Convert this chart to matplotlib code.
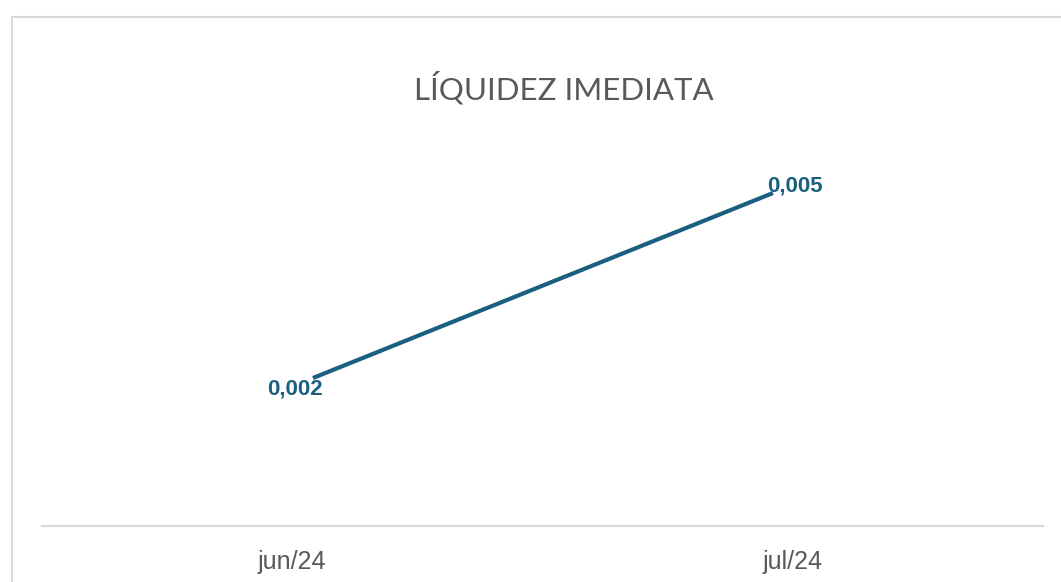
import matplotlib
matplotlib.use("Agg")
import matplotlib.pyplot as plt
import matplotlib.patches as patches
from matplotlib.transforms import ScaledTranslation

# liquidity ratio per month
months = ["jun/24", "jul/24"]
values = [0.002, 0.005]
labels = ["0,002", "0,005"]

line_col = "#1b5f80"
grey = "#595959"

fig = plt.figure(figsize=(10.61, 5.82), dpi=100)
ax = fig.add_axes([42 / 1061, 1 - 526 / 582, 1001 / 1061, 386 / 582])

x = list(range(len(months)))
ax.plot(x, values, color=line_col, lw=3, solid_capstyle="butt")

ax.set_xlim(-0.589, 1.587)
ax.set_ylim(-0.0004, 0.00586)

# value labels next to each point
offsets = [(-18, -11), (22, 7)]
for xi, v, lab, (dx, dy) in zip(x, values, labels, offsets):
    ax.annotate(lab, (xi, v), xytext=(dx * 0.72, dy * 0.72), textcoords="offset points",
                ha="center", va="center", fontsize=16, fontweight="bold",
                color=line_col, family="Liberation Sans")

ax.set_xticks(x)
ax.set_xticklabels(months, fontsize=18, color=grey, family="Liberation Sans")
ax.tick_params(axis="x", length=0, pad=17)
shifts = [-21, 20]
for t, s in zip(ax.get_xticklabels(), shifts):
    t.set_transform(t.get_transform() + ScaledTranslation(s / 100, 0, fig.dpi_scale_trans))
ax.set_yticks([])
for side in ["left", "right", "top"]:
    ax.spines[side].set_visible(False)
ax.spines["bottom"].set_color("#d9d9d9")
ax.spines["bottom"].set_linewidth(1.5)

fig.text(564 / 1061, 1 - 88 / 582, "LÍQUIDEZ IMEDIATA", ha="center", va="center",
         fontsize=22.5, color=grey, family="Lato")

# outer frame
fig.patches.append(patches.Rectangle((12 / 1061, -0.1), 1.2, 1 - 17 / 582 + 0.1,
                                     transform=fig.transFigure, fill=False,
                                     edgecolor="#d9d9d9", lw=1.5))

fig.savefig("out.png", dpi=100)
